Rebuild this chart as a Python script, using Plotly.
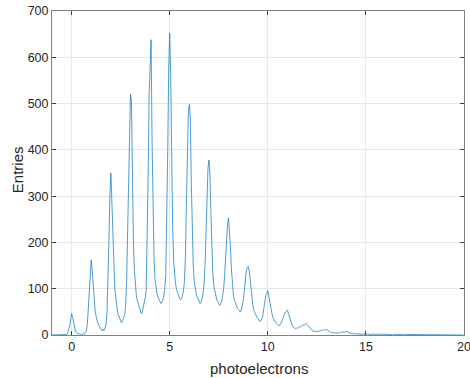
import numpy as np
import plotly.graph_objects as go

# Histogram bin centres: start and width (photoelectrons)
bin_start = -1.0
bin_width = 0.05

# Entries per bin (one row per unit of x)
entries_m1 = [0, 0, 0, 0, 0, 0, 0, 0, 0, 0, 0, 0, 0, 0, 0, 1, 4, 10, 20, 33]          # -1.00 .. -0.05
entries_0 = [46, 38, 26, 15, 8, 5, 3, 2, 3, 1, 2, 1, 3, 2, 5, 9, 22, 55, 100, 140]     # 0.00 .. 0.95
entries_1 = [162, 140, 105, 70, 52, 40, 30, 24, 20, 16, 12, 9, 13, 10, 15, 22, 45, 110, 200, 300]
entries_2 = [350, 290, 210, 140, 100, 82, 60, 48, 42, 35, 30, 26, 32, 36, 44, 60, 110, 210, 340, 470]
entries_3 = [520, 505, 330, 200, 140, 105, 85, 74, 68, 60, 52, 46, 50, 58, 66, 80, 95, 190, 340, 520]
entries_4 = [600, 638, 420, 260, 165, 120, 98, 90, 82, 76, 72, 68, 70, 75, 85, 100, 130, 230, 400, 580]
entries_5 = [652, 560, 380, 230, 160, 125, 110, 98, 90, 84, 80, 76, 78, 85, 95, 115, 170, 280, 400, 480]
entries_6 = [498, 470, 330, 210, 150, 115, 98, 90, 82, 76, 72, 68, 72, 78, 90, 110, 150, 220, 300, 360]
entries_7 = [378, 345, 260, 180, 130, 105, 92, 82, 76, 72, 66, 64, 68, 74, 85, 100, 130, 175, 215, 240]
entries_8 = [253, 228, 185, 140, 105, 85, 75, 68, 62, 58, 55, 52, 50, 54, 62, 75, 95, 120, 138, 145]
entries_9 = [148, 140, 118, 92, 72, 60, 52, 46, 42, 38, 35, 32, 29, 31, 35, 44, 58, 75, 86, 90]
entries_10 = [96, 84, 70, 56, 45, 38, 34, 30, 27, 24, 22, 21, 20, 24, 28, 33, 40, 46, 50, 52]
entries_11 = [54, 46, 38, 30, 24, 20, 17, 15, 14, 15, 14, 16, 18, 17, 19, 20, 22, 21, 24, 25]
entries_12 = [23, 20, 17, 14, 12, 10, 9, 8, 9, 7, 8, 7, 8, 9, 10, 9, 11, 10, 12, 11]
entries_13 = [12, 10, 8, 7, 6, 5, 6, 5, 4, 5, 4, 5, 4, 5, 6, 5, 6, 7, 6, 7]
entries_14 = [8, 7, 6, 5, 4, 3, 3, 4, 2, 3, 2, 3, 2, 2, 3, 1, 2, 2, 3, 2]
entries_15 = [1, 2, 3, 2, 1, 2, 2, 1, 3, 2, 1, 2, 1, 2, 2, 1, 1, 2, 1, 2]
entries_16 = [1, 1, 2, 1, 1, 2, 1, 0, 1, 1, 2, 1, 1, 0, 1, 1, 1, 2, 1, 0]
entries_17 = [1, 1, 0, 1, 1, 0, 1, 1, 0, 1, 0, 1, 1, 0, 0, 1, 0, 1, 0, 1]
entries_18 = [0, 1, 0, 0, 1, 0, 0, 1, 0, 0, 1, 0, 0, 0, 1, 0, 0, 1, 0, 0]
entries_19 = [0, 0, 1, 0, 0, 0, 1, 0, 0, 0, 0, 1, 0, 0, 0, 0, 1, 0, 0, 0]

entries = (entries_m1 + entries_0 + entries_1 + entries_2 + entries_3 + entries_4
           + entries_5 + entries_6 + entries_7 + entries_8 + entries_9 + entries_10
           + entries_11 + entries_12 + entries_13 + entries_14 + entries_15
           + entries_16 + entries_17 + entries_18 + entries_19)
photoelectrons = np.round(bin_start + bin_width * np.arange(len(entries)), 3)

x_ticks = [0, 5, 10, 15, 20]
y_ticks = [0, 100, 200, 300, 400, 500, 600, 700]
x_title = "photoelectrons"
y_title = "Entries"

FONT = "Liberation Sans, Arial, Helvetica, sans-serif"

fig = go.Figure()
fig.add_trace(go.Scatter(x=photoelectrons, y=entries, mode="lines",
                         line=dict(color="#0072BD", width=0.7), showlegend=False))

axis_common = dict(showline=True, linecolor="#808080", linewidth=1, mirror="ticks",
                   ticks="inside", ticklen=4, tickcolor="#404040", tickwidth=1,
                   showgrid=True, gridcolor="#e8e8e8", gridwidth=1, zeroline=False,
                   automargin=False, ticklabeloverflow="allow",
                   tickfont=dict(family=FONT, size=12.5, color="#262626"))

fig.update_layout(
    template="none",
    width=470, height=378,
    margin=dict(l=52, r=6, t=11, b=43),
    paper_bgcolor="white", plot_bgcolor="white",
    xaxis=dict(range=[-1, 20], tickvals=x_ticks, **axis_common),
    yaxis=dict(range=[0, 700], tickvals=y_ticks, **axis_common),
    annotations=[
        dict(text=x_title, xref="paper", yref="paper", x=0.5017, y=-0.102,
             xanchor="center", yanchor="middle", showarrow=False,
             font=dict(family=FONT, size=15, color="#262626")),
        dict(text=y_title, xref="paper", yref="paper", x=-0.084, y=0.51,
             xanchor="center", yanchor="middle", showarrow=False, textangle=-90,
             font=dict(family=FONT, size=15, color="#262626")),
    ],
)

fig.write_html("out.html")
